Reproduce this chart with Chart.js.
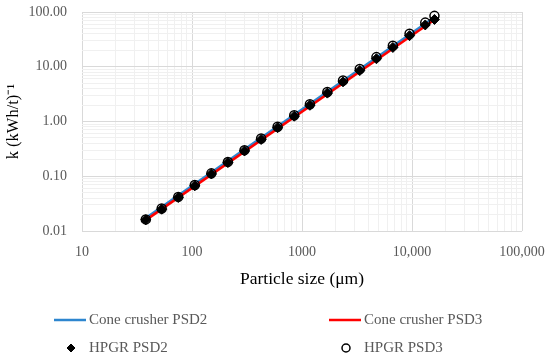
<!DOCTYPE html>
<html>
<head>
<meta charset="utf-8">
<script src="https://cdn.jsdelivr.net/npm/chart.js@4/dist/chart.umd.min.js"></script>
<style>
    html, body { margin: 0; padding: 0; background: #fff; }
    #wrap { width: 550px; height: 361px; position: relative; }
</style>
</head>
<body>
<div id="wrap"><canvas id="kChart"></canvas></div>
<script>
// particle sizes (um) of the sieve fractions
const sizes = [38, 53, 75, 106, 150, 212, 300, 425, 600, 850, 1180, 1700, 2360, 3350, 4750, 6700, 9500, 13200, 16000];
const hpgrPsd2 = [0.016, 0.025, 0.041, 0.067, 0.110, 0.178, 0.29, 0.47, 0.77, 1.25, 1.98, 3.3, 5.3, 8.5, 14.0, 22.5, 37, 58, 73];
const hpgrPsd3 = [0.0163, 0.0258, 0.042, 0.069, 0.113, 0.183, 0.30, 0.49, 0.80, 1.30, 2.07, 3.45, 5.6, 9.1, 15.0, 24.3, 40, 64, 85];

// fitted cone crusher lines (end points)
const coneSizes = [38, 16000];
const conePsd2 = [0.0172, 80];
const conePsd3 = [0.0158, 72];

const xTicks = [10, 100, 1000, 10000, 100000];
const xTickLabels = ['10', '100', '1000', '10,000', '100,000'];
const yTicks = [0.01, 0.1, 1, 10, 100];
const yTickLabels = ['0.01', '0.10', '1.00', '10.00', '100.00'];

const serif = "'Liberation Serif', 'Times New Roman', serif";

function toPoints(xs, ys) {
    return xs.map((x, i) => ({ x: x, y: ys[i] }));
}

// all 1..9 multiples inside the decade range, for the minor grid
function decadeTicks(majors) {
    const out = [];
    majors.forEach((m, i) => {
        if (i === majors.length - 1) {
            out.push({ value: m, major: true });
            return;
        }
        for (let k = 1; k < 10; k++) {
            out.push({ value: m * k, major: k === 1 });
        }
    });
    return out;
}

function labelFor(value, majors, labels) {
    const idx = majors.findIndex(m => Math.abs(m - value) / m < 1e-6);
    return idx >= 0 ? labels[idx] : '';
}

const gridColor = ctx => (ctx.tick && ctx.tick.major) ? '#d9d9d9' : '#f0f0f0';

const legendPlugin = {
    id: 'twoColLegend',
    afterDraw(chart) {
        const ctx = chart.ctx;
        const cols = [54, 329];
        const rows = [320, 348];
        chart.data.datasets.forEach((ds, i) => {
            const x = cols[i % 2];
            const y = rows[Math.floor(i / 2)];
            ctx.save();
            if (ds.showLine) {
                ctx.strokeStyle = ds.borderColor;
                ctx.lineWidth = ds.borderWidth;
                ctx.beginPath();
                ctx.moveTo(x, y);
                ctx.lineTo(x + 32, y);
                ctx.stroke();
            } else {
                ctx.strokeStyle = ds.pointBorderColor;
                ctx.fillStyle = ds.pointBackgroundColor;
                ctx.lineWidth = ds.pointBorderWidth;
                Chart.helpers.drawPoint(ctx, {
                    pointStyle: ds.pointStyle,
                    radius: 4,
                    borderWidth: ds.pointBorderWidth
                }, x + 17, y);
            }
            ctx.fillStyle = '#595959';
            ctx.font = '15px ' + serif;
            ctx.textBaseline = 'middle';
            ctx.textAlign = 'left';
            ctx.fillText(ds.label, x + 35, y);
            ctx.restore();
        });
    }
};

new Chart(document.getElementById('kChart'), {
    type: 'scatter',
    data: {
        datasets: [{
            label: 'Cone crusher PSD2',
            data: toPoints(coneSizes, conePsd2),
            showLine: true,
            borderColor: '#2d86cf',
            borderWidth: 2.5,
            pointRadius: 0,
            order: 4
        }, {
            label: 'Cone crusher PSD3',
            data: toPoints(coneSizes, conePsd3),
            showLine: true,
            borderColor: '#ff0000',
            borderWidth: 2.5,
            pointRadius: 0,
            order: 3
        }, {
            label: 'HPGR PSD2',
            data: toPoints(sizes, hpgrPsd2),
            showLine: false,
            clip: false,
            pointStyle: 'rectRot',
            pointRadius: 5,
            pointBorderWidth: 1,
            pointBackgroundColor: '#000',
            pointBorderColor: '#000',
            order: 2
        }, {
            label: 'HPGR PSD3',
            data: toPoints(sizes, hpgrPsd3),
            showLine: false,
            clip: false,
            pointStyle: 'circle',
            pointRadius: 4.5,
            pointBorderWidth: 1.5,
            pointBackgroundColor: 'rgba(0,0,0,0)',
            pointBorderColor: '#000',
            order: 1
        }]
    },
    options: {
        responsive: true,
        maintainAspectRatio: false,
        animation: false,
        layout: {
            padding: { left: 0, right: 28, top: 12, bottom: 64 }
        },
        plugins: {
            legend: { display: false },
            tooltip: { enabled: false }
        },
        scales: {
            x: {
                type: 'logarithmic',
                min: 10,
                max: 100000,
                afterBuildTicks: scale => { scale.ticks = decadeTicks(xTicks); },
                afterFit: scale => { scale.height = 66; },
                grid: { color: gridColor, drawTicks: true, tickLength: 13, tickColor: 'rgba(0,0,0,0)' },
                border: { display: false },
                ticks: {
                    autoSkip: false,
                    maxRotation: 0,
                    padding: 0,
                    color: '#595959',
                    font: { family: serif, size: 14 },
                    callback: value => labelFor(value, xTicks, xTickLabels)
                },
                title: {
                    display: true,
                    text: 'Particle size (μm)',
                    color: '#000',
                    font: { family: serif, size: 17.5 },
                    padding: { top: 4, bottom: 7 }
                }
            },
            y: {
                type: 'logarithmic',
                min: 0.01,
                max: 100,
                afterBuildTicks: scale => { scale.ticks = decadeTicks(yTicks); },
                afterFit: scale => { scale.width = 82; },
                grid: { color: gridColor, drawTicks: true, tickLength: 15, tickColor: 'rgba(0,0,0,0)' },
                border: { display: false },
                ticks: {
                    autoSkip: false,
                    padding: 0,
                    color: '#595959',
                    font: { family: serif, size: 14 },
                    callback: value => labelFor(value, yTicks, yTickLabels)
                },
                title: {
                    display: true,
                    text: 'k (kWh/t)⁻¹',
                    color: '#000',
                    font: { family: serif, size: 16.5 },
                    padding: { top: 4, bottom: 4 }
                }
            }
        }
    },
    plugins: [legendPlugin]
});
</script>
</body>
</html>
